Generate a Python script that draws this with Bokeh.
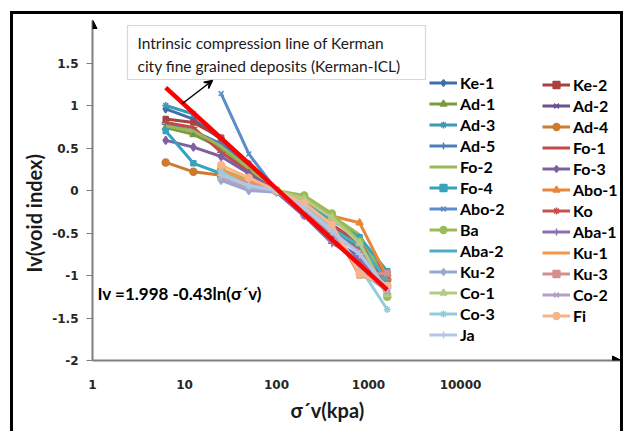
import math
from bokeh.plotting import figure
from bokeh.models import (Range1d, FixedTicker, Legend, LegendItem, Label, Arrow, Title,
                          NormalHead, VeeHead, BoxAnnotation, NumeralTickFormatter,
                          InlineStyleSheet)
from bokeh.embed import file_html
from bokeh.resources import INLINE

# ---------------- data ----------------
pressure = [6.25, 12.5, 25, 50, 100, 200, 400, 800, 1600]

ke_1  = [0.96, 0.84, 0.60, 0.30, 0.00, -0.22, -0.45, -0.68, -1.10]
ke_2  = [0.84, 0.80, 0.62, 0.28, 0.00, -0.20, -0.42, -0.65, -0.98]
ad_1  = [0.74, 0.66, 0.50, 0.25, 0.00, -0.12, -0.30, -0.58, -1.20]
ad_2  = [None, None, 0.20, 0.05, -0.02, -0.30, -0.60, -0.85, -1.20]
ad_3  = [1.00, 0.90, 0.62, 0.32, 0.00, -0.25, -0.50, -0.70, -1.10]
ad_4  = [0.33, 0.22, 0.18, 0.10, 0.00, -0.18, -0.45, -0.65, -1.05]
ad_5  = [0.78, 0.70, 0.55, 0.30, 0.00, -0.25, -0.52, -0.72, -1.12]
fo_1  = [0.80, 0.74, 0.45, 0.22, 0.00, -0.18, -0.40, -0.62, -1.00]
fo_2  = [0.76, 0.70, 0.52, 0.26, 0.00, -0.10, -0.30, -0.52, -1.10]
fo_3  = [0.59, 0.51, 0.40, 0.20, 0.00, -0.28, -0.58, -0.78, -1.15]
fo_4  = [0.70, 0.32, 0.20, 0.12, 0.00, -0.15, -0.35, -0.55, -0.95]
abo_1 = [None, None, 0.25, 0.10, 0.00, -0.12, -0.30, -0.38, -1.02]
abo_2 = [None, None, 1.14, 0.43, 0.00, -0.22, -0.45, -0.75, -1.20]
ko    = [None, None, 0.22, 0.08, -0.02, -0.25, -0.52, -0.70, -1.05]
ba    = [None, None, 0.25, 0.12, 0.00, -0.06, -0.27, -0.60, -1.25]
aba_1 = [None, None, 0.15, 0.02, -0.02, -0.30, -0.62, -0.80, -1.15]
aba_2 = [None, None, 0.18, 0.06, 0.00, -0.20, -0.45, -0.65, -1.05]
ku_1  = [None, None, 0.25, 0.10, 0.00, -0.18, -0.42, -1.00, -1.10]
ku_2  = [None, None, 0.12, 0.00, -0.02, -0.22, -0.48, -0.95, -1.18]
ku_3  = [None, None, 0.20, 0.08, 0.00, -0.18, -0.42, -1.00, -0.97]
co_1  = [None, None, 0.15, 0.05, 0.00, -0.10, -0.32, -0.62, -1.22]
co_2  = [None, None, 0.14, 0.02, 0.00, -0.22, -0.50, -0.72, -1.20]
co_3  = [None, None, 0.22, 0.05, 0.00, -0.20, -0.45, -0.90, -1.40]
fi    = [None, None, 0.30, 0.15, 0.00, -0.15, -0.40, -0.98, -1.12]
ja    = [None, None, 0.18, 0.06, 0.00, -0.20, -0.48, -0.75, -1.15]

series_names = ["Ke-1", "Ke-2", "Ad-1", "Ad-2", "Ad-3", "Ad-4", "Ad-5", "Fo-1", "Fo-2",
                "Fo-3", "Fo-4", "Abo-1", "Abo-2", "Ko", "Ba", "Aba-1", "Aba-2", "Ku-1",
                "Ku-2", "Ku-3", "Co-1", "Co-2", "Co-3", "Fi", "Ja"]
series_values = [ke_1, ke_2, ad_1, ad_2, ad_3, ad_4, ad_5, fo_1, fo_2, fo_3, fo_4, abo_1,
                 abo_2, ko, ba, aba_1, aba_2, ku_1, ku_2, ku_3, co_1, co_2, co_3, fi, ja]

# Kerman intrinsic compression line end points
icl_x = [6.25, 1600]
icl_y = [1.21, -1.17]

x_ticks = [1, 10, 100, 1000, 10000]
y_ticks = [-2, -1.5, -1, -0.5, 0, 0.5, 1, 1.5]

# ---------------- styles ----------------
colors = ["#3F6FAA", "#A9413E", "#7A9A45", "#6B518F", "#3A9BB5", "#CE7A30", "#4A7EBB",
          "#BE4B48", "#98B954", "#7D60A0", "#36A3BE", "#E8873A", "#5B8DCB", "#C8504D",
          "#9BBB59", "#8A70AE", "#4BACC6", "#F79646", "#95A8D2", "#D58F8D", "#B3CB83",
          "#B1A0C7", "#92CDDC", "#F9B58A", "#B3C6E3"]
marker_cycle = ["diamond", "square", "triangle", "x", "asterisk", "circle", "cross", "dash", None]
marker_size = {"diamond": 8, "square": 5, "triangle": 7, "x": 7, "asterisk": 7,
               "circle": 7, "cross": 8, "dash": 8}

FONT = "Lato"

# pixel helpers (frame: x 92..620 px, y 20..360 px)
def dx(px):
    return 10 ** ((px - 92) / 92.0)

def dy(py):
    return (190 - py) / 85.0

frame_css = InlineStyleSheet(css="""
:host { position: relative; }
:host::after {
  content: "";
  position: absolute;
  left: 10px; top: 11px; width: 613px; height: 420px;
  box-sizing: border-box;
  border: 3px solid black; border-bottom: none;
  pointer-events: none; z-index: 100;
}
""")

p = figure(width=626, height=431, x_axis_type="log",
           x_range=Range1d(1, dx(620)), y_range=Range1d(-2, 2),
           output_backend="svg", toolbar_location=None,
           min_border_left=92, min_border_right=6, min_border_top=20, min_border_bottom=71)
p.stylesheets = [frame_css]
p.outline_line_color = None
p.grid.visible = False
p.background_fill_color = "white"
p.border_fill_color = "white"

# axes
for ax in (p.xaxis[0], p.yaxis[0]):
    ax.axis_line_color = "#7F7F7F"
    ax.axis_line_width = 2
    ax.minor_tick_line_color = None
    ax.major_label_text_font = "DejaVu Sans"
    ax.major_label_text_font_style = "bold"
    ax.major_label_text_font_size = "12px"
    ax.major_label_text_color = "#262626"
p.xaxis.ticker = FixedTicker(ticks=x_ticks)
p.xaxis.formatter = NumeralTickFormatter(format="0")
p.xaxis.major_tick_line_color = None
p.xaxis.major_tick_out = 0
p.xaxis.major_tick_in = 0
p.xaxis.major_label_standoff = 19
p.yaxis.ticker = FixedTicker(ticks=y_ticks)
p.yaxis.formatter = NumeralTickFormatter(format="0.[0]")
p.yaxis.major_tick_line_color = "#7F7F7F"
p.yaxis.major_tick_out = 6
p.yaxis.major_tick_in = 0
p.yaxis.major_label_standoff = 8

# axis titles
p.add_layout(Title(text="σ´v(kpa)", align="left", offset=198, standoff=8,
                   text_font=FONT, text_font_style="bold", text_font_size="20px",
                   text_color="#1a1a1a"), "below")
p.add_layout(Title(text="Iv(void index)", align="left", offset=88, standoff=8,
                   text_font=FONT, text_font_style="bold", text_font_size="20px",
                   text_color="#1a1a1a"), "left")

# series
legend_items = []
for i, (name, vals) in enumerate(zip(series_names, series_values)):
    xs = [x for x, v in zip(pressure, vals) if v is not None]
    ys = [v for v in vals if v is not None]
    col = colors[i]
    rs = [p.line(xs, ys, line_color=col, line_width=3)]
    mk = marker_cycle[i % len(marker_cycle)]
    if mk is not None:
        rs.append(p.scatter(xs, ys, marker=mk, size=marker_size[mk], fill_color=col,
                            line_color=col, line_width=1.5))
    legend_items.append(LegendItem(label=name, renderers=rs))

# intrinsic compression line
p.line(icl_x, icl_y, line_color="#FF0000", line_width=4.5)

# legends (two columns)
def make_legend(items, loc):
    return Legend(items=items, location=loc, orientation="vertical",
                  border_line_color=None, background_fill_alpha=0,
                  label_text_font=FONT, label_text_font_style="bold",
                  label_text_font_size="16px", label_text_color="black",
                  glyph_width=28, glyph_height=17, label_height=17, label_standoff=3,
                  spacing=2, padding=0, margin=0)

p.add_layout(make_legend(legend_items[0::2], (337, 16)), "center")
p.add_layout(make_legend(legend_items[1::2], (450, 35)), "center")

# annotation box
p.add_layout(BoxAnnotation(left=dx(127), right=dx(425), top=dy(25), bottom=dy(79),
                           fill_color="white", fill_alpha=1, line_color="#7F7F7F",
                           line_width=1.2))
p.add_layout(Label(x=dx(137), y=dy(42), text="Intrinsic compression line of Kerman",
                   text_font=FONT, text_font_size="15.5px", text_baseline="middle",
                   text_color="#1a1a1a"))
p.add_layout(Label(x=dx(137), y=dy(65), text="city fine grained deposits (Kerman-ICL)",
                   text_font=FONT, text_font_size="15.5px", text_baseline="middle",
                   text_color="#1a1a1a"))
p.add_layout(Arrow(end=VeeHead(size=8, line_color="black", line_width=1.5),
                   x_start=dx(182), y_start=dy(103), x_end=dx(212), y_end=dy(80),
                   line_color="black", line_width=1.5))

# equation
p.add_layout(Label(x=dx(97), y=dy(293), text="Iv =1.998 -0.43ln(σ´v)",
                   text_font=FONT, text_font_style="bold", text_font_size="17px",
                   text_baseline="middle", text_color="black"))

# axis arrow heads
p.add_layout(Arrow(end=NormalHead(size=9, fill_color="black", line_color="black"),
                   x_start=1, y_start=dy(30), x_end=1, y_end=dy(19), line_alpha=0))
p.add_layout(Arrow(end=NormalHead(size=9, fill_color="black", line_color="black"),
                   x_start=dx(605), y_start=-2, x_end=dx(621), y_end=-2, line_alpha=0))

open("out.html", "w").write(file_html(p, INLINE))
